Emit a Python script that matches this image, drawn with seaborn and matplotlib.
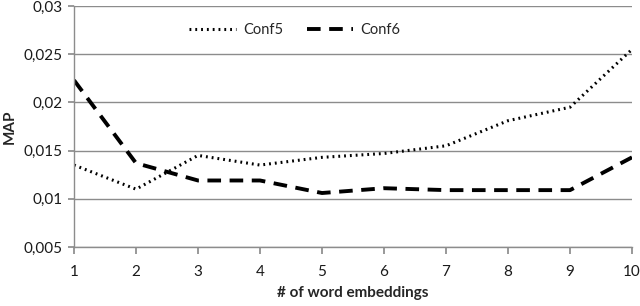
import matplotlib
matplotlib.use("Agg")
import matplotlib.pyplot as plt
import seaborn as sns
import pandas as pd

x_vals = [1, 2, 3, 4, 5, 6, 7, 8, 9, 10]
conf5 = [0.0135, 0.0110, 0.0145, 0.0135, 0.0143, 0.0147, 0.0155, 0.0181, 0.0195, 0.0255]
conf6 = [0.0223, 0.0137, 0.0119, 0.0119, 0.0106, 0.0111, 0.0109, 0.0109, 0.0109, 0.0143]
y_ticks = [0.005, 0.01, 0.015, 0.02, 0.025, 0.03]
y_tick_labels = ["0,005", "0,01", "0,015", "0,02", "0,025", "0,03"]

sns.set_theme(style="white")
plt.rcParams['font.family'] = ['Lato', 'DejaVu Sans']

df = pd.DataFrame({
    "x": x_vals * 2,
    "MAP": conf5 + conf6,
    "series": ["Conf5"] * len(x_vals) + ["Conf6"] * len(x_vals),
})

fig = plt.figure(figsize=(6.4, 3.06), dpi=100)
ax = fig.add_axes([74/640, 1-247/306, (632-74)/640, (247-6)/306])

sns.lineplot(data=df[df.series == "Conf5"], x="x", y="MAP", ax=ax, color="black",
             linewidth=2.2, label="Conf5")
ax.lines[-1].set_linestyle((0, (0.6, 1.3)))
ax.lines[-1].set_dash_capstyle("butt")
sns.lineplot(data=df[df.series == "Conf6"], x="x", y="MAP", ax=ax, color="black",
             linewidth=2.8, label="Conf6")
ax.lines[-1].set_linestyle((0, (3.5, 2.2)))

ax.set_xlim(1, 10)
ax.set_ylim(0.005, 0.03)
ax.set_xticks(x_vals)
ax.set_yticks(y_ticks)
ax.set_yticklabels(y_tick_labels)
ax.yaxis.grid(True, color="#8c8c8c", linewidth=1)
ax.xaxis.grid(False)
for s in ["top", "right"]:
    ax.spines[s].set_visible(False)
for s in ["left", "bottom"]:
    ax.spines[s].set_color("#8c8c8c")
    ax.spines[s].set_linewidth(1)
ax.tick_params(axis="x", bottom=True, direction="out", length=5, color="#8c8c8c",
               labelsize=11, pad=8, labelcolor="#1a1a1a")
ax.tick_params(axis="y", left=True, direction="out", length=4, color="#8c8c8c",
               labelsize=11, pad=4, labelcolor="#1a1a1a")

ax.set_xlabel("# of word embeddings", fontsize=11, fontweight="bold", labelpad=5)
ax.set_ylabel("MAP", fontsize=11, fontweight="bold", labelpad=5)

leg = ax.legend(loc="center left", bbox_to_anchor=(0.183, 0.9), ncol=2, frameon=False,
                fontsize=10.5, handlelength=3.2, columnspacing=1.6, handletextpad=0.5)

fig.savefig("out.png", dpi=100)
